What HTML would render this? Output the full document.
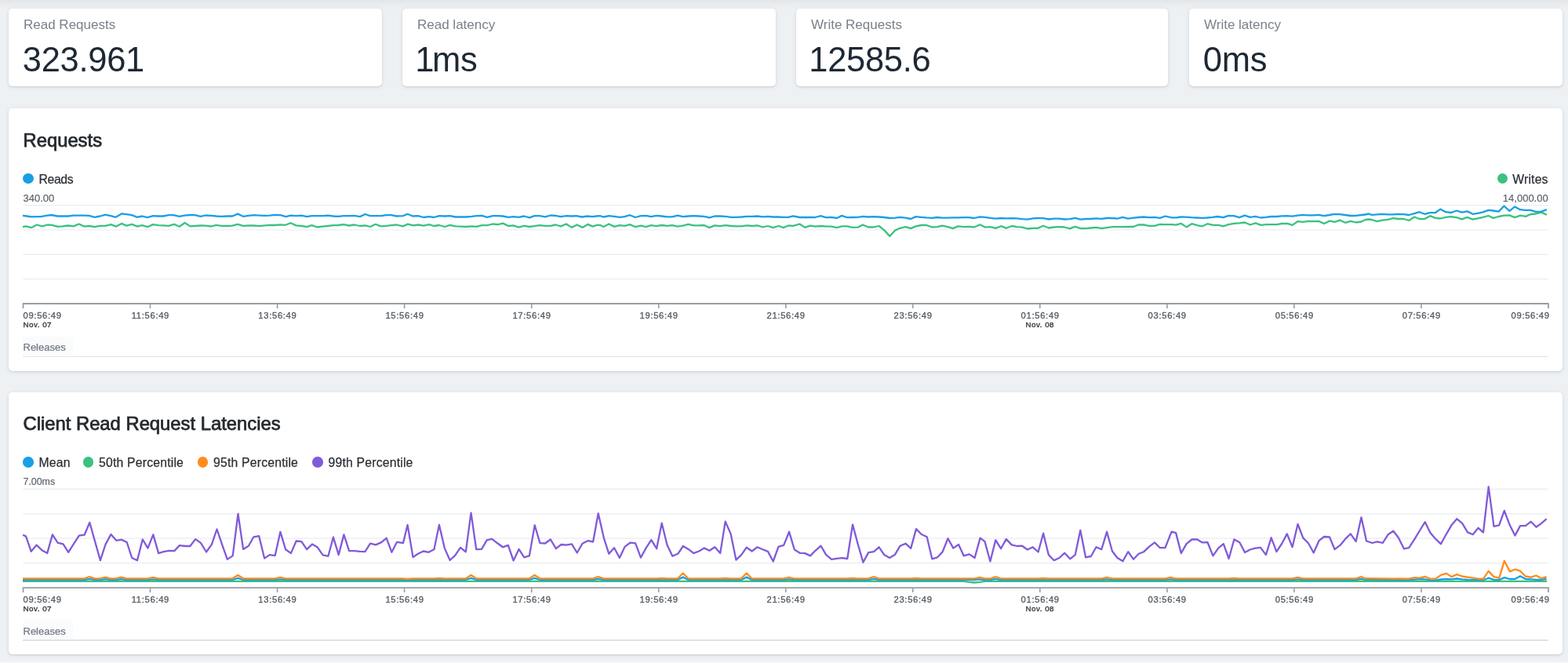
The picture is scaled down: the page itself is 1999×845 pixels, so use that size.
<!DOCTYPE html>
<html>
<head>
<meta charset="utf-8">
<style>
html,body{margin:0;padding:0}
body{width:1999px;height:845px;overflow:hidden;position:relative;background:#eef1f4;font-family:"Liberation Sans",Arial,sans-serif}
.topfade{position:absolute;left:0;top:0;width:1999px;height:12px;background:linear-gradient(#e2e6e9,#e9ecef 40%,#eef1f4)}
.card{position:absolute;top:11px;height:99px;background:#fff;border-radius:5px;box-shadow:0 1px 5px rgba(40,50,60,.12),0 1px 1.5px rgba(40,50,60,.10)}
.card .lab{position:absolute;left:19px;top:11.7px;font-size:17px;line-height:17px;color:#79818a;white-space:nowrap}
.card .val{position:absolute;left:17.8px;top:43.9px;font-size:43.5px;line-height:43.5px;letter-spacing:-0.3px;color:#1d2834;white-space:nowrap}
.panel{position:absolute;left:11px;width:1981px;height:335px;background:#fff;border-radius:5px;box-shadow:0 1px 5px rgba(40,50,60,.12),0 1px 1.5px rgba(40,50,60,.10)}
.ttl{position:absolute;left:29.5px;font-size:23.8px;line-height:23.8px;font-weight:400;color:#24292e;letter-spacing:0px;-webkit-text-stroke:0.75px #24292e;white-space:nowrap}
.lg{position:absolute;font-size:15.75px;line-height:15.75px;color:#2b3035;letter-spacing:0.2px;-webkit-text-stroke:0.25px #2b3035;white-space:nowrap}
.dot{position:absolute;width:13.6px;height:13.6px;border-radius:50%}
.yl{position:absolute;font-size:13px;line-height:13px;color:#5b6168;-webkit-text-stroke:0.15px #5b6168;white-space:nowrap}
.tl{position:absolute;font-size:11.2px;line-height:11.2px;color:#575e65;letter-spacing:0.7px;-webkit-text-stroke:0.35px #575e65;white-space:nowrap}
.dl{position:absolute;font-size:9.8px;line-height:9.8px;font-weight:400;letter-spacing:0.5px;-webkit-text-stroke:0.4px #3a3f44;color:#3a3f44;white-space:nowrap}
.c{width:80px;text-align:center}
.rel{position:absolute;left:29px;width:64px;height:24px;background:#fafbfc}
.relt{position:absolute;left:29.5px;font-size:13px;line-height:13px;color:#6f7882;-webkit-text-stroke:0.2px #6f7882;white-space:nowrap}
.relline{position:absolute;left:29px;width:1945px;height:1.5px;background:#dfe3e8}
</style>
</head>
<body>
<div id="wrap" style="position:absolute;left:0;top:0;width:1999px;height:845px;filter:blur(0.35px)">
<div class="topfade"></div>

<div class="card" style="left:11px;width:476px"><div class="lab">Read Requests</div><div class="val">323.961</div></div>
<div class="card" style="left:513px;width:476px"><div class="lab">Read latency</div><div class="val" style="margin-left:-1.5px"><span style="letter-spacing:-2.5px">1</span>ms</div></div>
<div class="card" style="left:1015px;width:474px"><div class="lab">Write Requests</div><div class="val" style="margin-left:-1.5px">12585.6</div></div>
<div class="card" style="left:1516px;width:476px"><div class="lab">Write latency</div><div class="val">0ms</div></div>

<div class="panel" style="top:138px"></div>
<div class="panel" style="top:500px;height:334px"></div>

<div class="ttl" style="top:167.1px">Requests</div>
<div class="dot" style="left:29.1px;top:220.7px;background:#199fe4"></div>
<div class="lg" style="left:49.5px;top:220.9px;letter-spacing:-0.35px">Reads</div>
<div class="dot" style="left:1908.7px;top:220.8px;background:#3ac27e"></div>
<div class="lg" style="right:25.3px;top:220.9px">Writes</div>
<div class="yl" style="left:29.5px;top:245.9px">340.00</div>
<div class="yl" style="right:25.3px;top:245.9px">14,000.00</div>

<svg class="ch" width="1999" height="845" viewBox="0 0 1999 845" style="position:absolute;left:0;top:0">
<line x1="29.5" x2="1974" y1="261.6" y2="261.6" stroke="#e9ecef" stroke-width="1.2"/>
<line x1="29.5" x2="1974" y1="293.0" y2="293.0" stroke="#e9ecef" stroke-width="1.2"/>
<line x1="29.5" x2="1974" y1="324.3" y2="324.3" stroke="#e9ecef" stroke-width="1.2"/>
<line x1="29.5" x2="1974" y1="355.7" y2="355.7" stroke="#e9ecef" stroke-width="1.2"/>
<polyline points="29.0,289.2 33.1,288.4 40.0,290.2 46.9,286.5 53.8,288.4 60.6,286.5 66.2,286.8 73.8,288.9 80.0,288.4 86.9,287.5 93.8,288.4 100.6,285.5 107.5,288.6 113.8,288.0 120.6,289.2 127.5,287.8 134.4,287.8 141.2,286.1 148.1,288.6 155.0,284.9 161.2,287.6 168.1,285.9 175.0,288.6 181.2,287.1 188.1,289.2 195.0,286.1 201.9,287.1 208.1,287.4 215.0,287.8 221.9,285.8 228.8,288.8 235.6,284.0 242.5,288.4 248.8,288.0 255.6,287.5 261.9,287.6 269.4,288.5 275.6,286.8 282.5,287.8 289.4,288.0 296.2,287.6 303.1,285.8 310.0,287.8 316.9,287.5 323.8,287.5 330.6,288.2 337.5,287.4 343.8,286.8 350.6,287.0 357.5,286.4 363.8,286.8 370.6,284.2 377.5,287.4 384.4,288.0 391.2,289.2 397.5,287.1 404.4,289.5 411.2,288.6 418.1,288.0 425.0,287.1 431.2,287.0 438.1,286.1 445.0,287.5 451.9,286.5 458.8,288.0 465.6,287.4 471.9,289.0 478.8,285.8 485.6,288.4 492.5,287.8 498.8,287.1 505.6,286.5 513.8,288.4 519.9,285.6 526.9,287.4 533.1,286.5 540.0,287.6 546.9,286.1 553.1,288.0 560.0,287.0 566.9,289.0 573.8,286.8 580.6,288.4 587.5,288.6 594.4,289.0 601.2,288.4 607.5,288.9 614.4,287.1 621.2,287.1 628.1,285.5 635.0,286.1 641.2,284.6 648.1,288.0 654.4,287.4 661.2,289.6 668.1,287.8 675.0,289.0 681.2,288.2 688.1,287.1 695.0,287.8 701.9,287.8 708.1,286.5 715.0,288.4 721.9,285.5 728.8,289.9 735.6,286.5 742.5,289.9 749.4,285.9 755.6,288.6 761.2,286.9 764.9,286.8 769.4,289.0 776.2,285.5 783.1,288.9 790.0,287.1 796.2,287.8 803.1,286.1 810.0,289.2 816.9,287.6 823.8,289.2 830.0,287.1 836.9,288.2 843.8,287.0 850.6,287.8 856.9,287.1 863.8,288.6 870.6,287.6 877.5,285.8 884.4,287.4 891.2,287.4 897.5,287.0 904.4,290.1 911.2,287.4 918.1,288.2 925.0,287.1 931.9,288.0 938.8,288.4 945.6,288.4 951.9,287.4 958.8,288.0 965.6,287.4 972.5,289.5 978.8,288.0 985.6,290.1 992.5,288.0 998.8,290.1 1005.0,287.5 1011.2,287.8 1019.4,285.5 1026.2,289.9 1033.1,287.6 1039.4,288.6 1046.2,288.0 1053.1,288.6 1060.0,288.6 1066.9,290.1 1073.1,288.4 1080.0,288.4 1086.9,289.9 1093.8,289.6 1100.0,286.5 1106.9,289.5 1113.8,289.5 1120.6,288.0 1127.5,293.6 1134.4,301.1 1141.2,293.6 1147.5,290.8 1154.4,289.2 1161.2,291.1 1167.5,288.4 1174.4,287.0 1181.2,287.0 1188.1,289.5 1195.0,289.2 1201.2,287.6 1208.1,289.2 1215.0,291.1 1221.2,288.4 1228.8,289.2 1235.0,288.9 1241.9,289.5 1249.4,286.3 1255.6,289.6 1262.5,289.2 1269.4,290.9 1276.2,288.2 1283.1,290.8 1290.0,288.0 1296.2,289.2 1303.1,289.6 1310.0,291.5 1316.9,290.9 1323.1,290.9 1330.0,287.8 1336.9,290.5 1343.8,289.5 1350.0,289.2 1356.9,289.5 1363.8,291.4 1370.6,288.9 1377.5,291.1 1384.4,291.1 1390.6,290.5 1397.5,289.9 1404.4,291.1 1411.2,290.1 1418.1,289.2 1424.4,289.2 1431.2,289.2 1438.1,289.0 1445.0,289.0 1451.2,286.5 1458.1,286.5 1465.0,287.8 1471.9,287.8 1478.8,285.8 1485.6,286.1 1493.8,286.1 1499.3,286.7 1505.6,284.8 1512.5,289.4 1519.4,285.2 1526.2,287.1 1532.5,288.5 1539.4,285.2 1546.2,286.9 1553.1,286.9 1559.4,288.4 1566.2,286.2 1573.1,284.8 1580.0,284.4 1586.9,283.5 1593.8,286.5 1600.6,284.4 1607.5,286.9 1614.4,286.2 1621.2,286.2 1627.5,286.2 1634.4,285.0 1641.2,284.8 1647.5,286.9 1654.4,282.2 1661.2,282.8 1668.1,281.9 1675.0,282.2 1681.2,281.9 1688.1,285.0 1695.0,281.6 1701.9,282.8 1708.1,280.6 1715.0,283.8 1721.9,281.9 1728.8,283.5 1735.6,282.5 1741.2,279.8 1744.9,279.5 1748.8,280.0 1755.6,282.2 1762.5,280.6 1769.4,279.8 1776.2,278.1 1782.5,279.0 1789.4,279.0 1796.2,281.0 1803.1,276.5 1809.4,279.0 1816.2,279.1 1823.1,275.2 1830.0,277.8 1836.2,278.5 1843.1,276.9 1850.0,276.2 1856.9,277.2 1863.8,279.4 1870.6,276.9 1877.5,279.6 1883.8,278.4 1890.6,276.9 1897.5,275.0 1903.8,277.9 1910.6,276.0 1917.5,274.6 1924.4,274.4 1931.2,277.1 1938.1,274.6 1945.0,275.9 1951.2,273.1 1958.1,272.5 1965.0,270.6 1971.9,273.8" fill="none" stroke="#3ac27e" stroke-width="2.3" stroke-linejoin="round" stroke-linecap="butt"/>
<polyline points="29.0,274.9 34.4,275.5 40.0,276.4 45.6,276.1 51.9,276.1 58.8,274.9 65.6,274.0 73.1,275.5 80.0,275.5 86.9,275.5 93.8,274.6 100.0,274.6 106.9,274.6 113.8,274.9 120.6,276.8 127.5,275.5 134.4,273.6 141.2,275.1 147.5,276.8 155.0,272.4 161.2,273.2 168.1,274.2 175.0,276.8 181.2,275.5 188.1,277.1 195.0,275.2 201.9,275.5 208.1,275.5 215.0,274.2 221.2,274.2 228.8,275.9 235.0,274.6 242.5,274.0 248.8,274.2 255.6,275.9 261.9,274.5 269.4,274.9 275.6,275.5 282.5,275.8 289.4,275.5 296.2,275.5 303.1,272.6 310.0,275.8 316.9,274.9 323.8,274.2 330.6,274.6 337.5,274.9 343.8,274.6 350.6,273.9 357.5,274.2 364.4,276.1 370.6,274.6 377.5,275.2 384.4,274.6 391.2,276.1 397.5,275.2 404.4,275.2 411.2,275.2 418.1,274.6 425.0,275.5 431.2,275.9 438.1,275.1 445.0,275.2 451.9,274.9 458.8,276.1 465.6,273.0 471.9,275.1 478.8,275.1 485.6,275.2 492.5,274.2 498.8,274.2 505.6,275.5 513.8,275.1 519.6,272.8 526.2,275.5 533.1,275.2 540.0,277.0 546.9,276.1 553.1,277.0 560.0,275.1 566.9,275.5 573.8,275.1 580.6,276.5 587.5,276.5 594.4,276.5 601.2,275.9 607.5,275.1 614.4,274.9 621.2,276.8 628.1,275.2 635.0,275.1 641.2,275.5 648.1,276.8 655.0,276.1 661.2,276.8 668.1,275.5 675.0,277.4 681.2,275.2 688.1,275.1 695.0,276.4 701.9,274.5 708.1,274.9 715.0,276.1 721.9,275.2 728.8,275.5 735.0,275.2 741.9,276.5 748.8,275.5 755.6,276.1 760.0,275.5 764.9,275.1 769.4,276.5 776.2,275.1 783.1,275.9 790.0,276.8 796.2,276.1 803.1,274.2 810.0,277.0 816.9,275.2 823.8,274.9 830.0,276.1 836.9,274.9 843.8,275.5 850.6,276.4 856.9,276.4 863.8,274.6 870.6,276.1 877.5,275.5 884.4,275.2 891.2,275.5 897.5,275.8 904.4,277.4 911.2,275.5 918.1,275.5 925.0,275.9 931.9,276.8 938.8,276.8 945.6,276.5 951.9,275.9 958.8,275.9 965.6,275.5 972.5,276.4 978.8,275.9 985.6,276.5 992.5,276.5 998.8,276.8 1005.0,276.8 1011.2,275.3 1019.4,277.0 1026.2,276.8 1033.1,277.0 1039.4,277.0 1046.2,275.1 1053.1,277.1 1060.0,276.8 1066.9,278.0 1073.1,274.9 1080.0,277.1 1086.9,277.0 1093.8,276.8 1100.0,275.8 1106.9,276.5 1113.8,276.1 1120.6,276.5 1127.5,277.0 1134.4,278.0 1141.2,277.6 1147.5,276.8 1154.4,277.6 1161.2,279.0 1167.5,276.1 1174.4,276.8 1181.2,277.4 1188.1,277.8 1195.0,277.0 1201.2,277.6 1208.1,277.6 1215.0,277.4 1221.2,277.4 1228.8,277.1 1235.0,277.1 1241.9,278.0 1249.4,276.4 1255.6,276.9 1262.5,277.8 1269.4,278.6 1276.2,278.0 1283.1,278.4 1290.0,278.2 1296.2,278.4 1303.1,279.2 1310.0,279.6 1316.9,278.4 1323.1,278.0 1330.0,278.2 1336.9,279.5 1343.8,278.6 1350.0,278.6 1356.9,279.5 1363.8,279.2 1370.6,277.8 1377.5,279.6 1384.4,279.0 1390.6,279.0 1397.5,278.4 1404.4,278.9 1411.2,278.0 1418.1,278.0 1424.4,278.6 1431.2,276.8 1438.1,278.6 1445.0,277.6 1451.2,277.0 1458.1,276.5 1465.0,277.1 1471.9,276.8 1478.8,277.8 1485.6,275.5 1493.8,277.4 1499.9,277.4 1505.0,276.5 1511.9,276.6 1518.8,277.2 1525.6,277.5 1532.5,277.8 1538.8,277.5 1545.6,276.9 1552.5,276.0 1559.4,277.2 1566.2,274.8 1573.1,275.2 1580.0,277.1 1586.9,274.6 1593.8,276.9 1600.6,275.9 1607.5,277.5 1613.8,276.9 1620.6,276.0 1627.5,276.0 1633.8,275.4 1640.6,275.2 1647.5,275.6 1654.4,274.6 1660.6,273.8 1667.5,274.4 1674.4,274.4 1681.2,273.8 1688.1,275.2 1695.0,274.0 1701.2,272.9 1708.1,273.1 1715.0,274.0 1721.9,275.0 1728.8,274.8 1735.6,274.0 1740.0,273.5 1744.9,272.5 1748.8,273.8 1755.6,273.4 1762.5,272.9 1769.4,273.4 1776.2,273.4 1782.5,272.9 1789.4,273.1 1796.2,274.0 1803.1,272.1 1809.4,270.2 1816.2,272.8 1823.1,271.2 1830.0,271.0 1836.2,266.6 1843.1,270.2 1850.0,271.0 1856.9,268.5 1863.8,270.6 1870.6,269.4 1877.5,272.8 1883.8,271.9 1890.6,270.4 1897.5,267.9 1903.8,268.5 1910.6,269.6 1917.5,262.5 1924.4,268.8 1931.2,263.4 1938.1,267.2 1945.0,267.9 1951.2,267.9 1958.1,269.8 1965.0,269.6 1971.9,267.1" fill="none" stroke="#199fe4" stroke-width="2.3" stroke-linejoin="round" stroke-linecap="butt"/>
<path d="M29.5,393.0 V387.0 H1974.0 V393.0" fill="none" stroke="#979da3" stroke-width="1.8" stroke-linejoin="round"/>
<line x1="191.5" x2="191.5" y1="387.0" y2="393.0" stroke="#979da3" stroke-width="1.6"/>
<line x1="353.6" x2="353.6" y1="387.0" y2="393.0" stroke="#979da3" stroke-width="1.6"/>
<line x1="515.6" x2="515.6" y1="387.0" y2="393.0" stroke="#979da3" stroke-width="1.6"/>
<line x1="677.7" x2="677.7" y1="387.0" y2="393.0" stroke="#979da3" stroke-width="1.6"/>
<line x1="839.7" x2="839.7" y1="387.0" y2="393.0" stroke="#979da3" stroke-width="1.6"/>
<line x1="1001.8" x2="1001.8" y1="387.0" y2="393.0" stroke="#979da3" stroke-width="1.6"/>
<line x1="1163.8" x2="1163.8" y1="387.0" y2="393.0" stroke="#979da3" stroke-width="1.6"/>
<line x1="1325.8" x2="1325.8" y1="387.0" y2="393.0" stroke="#979da3" stroke-width="1.6"/>
<line x1="1487.9" x2="1487.9" y1="387.0" y2="393.0" stroke="#979da3" stroke-width="1.6"/>
<line x1="1649.9" x2="1649.9" y1="387.0" y2="393.0" stroke="#979da3" stroke-width="1.6"/>
<line x1="1812.0" x2="1812.0" y1="387.0" y2="393.0" stroke="#979da3" stroke-width="1.6"/>
</svg>
<div class="tl" style="left:29.5px;top:397.1px">09:56:49</div>
<div class="dl" style="left:29.5px;top:409.2px">Nov. 07</div>
<div class="tl c" style="left:151.9px;top:397.1px">11:56:49</div>
<div class="tl c" style="left:313.9px;top:397.1px">13:56:49</div>
<div class="tl c" style="left:476.0px;top:397.1px">15:56:49</div>
<div class="tl c" style="left:638.0px;top:397.1px">17:56:49</div>
<div class="tl c" style="left:800.1px;top:397.1px">19:56:49</div>
<div class="tl c" style="left:962.1px;top:397.1px">21:56:49</div>
<div class="tl c" style="left:1124.1px;top:397.1px">23:56:49</div>
<div class="tl c" style="left:1286.2px;top:397.1px">01:56:49</div>
<div class="dl c" style="left:1285.8px;top:409.2px">Nov. 08</div>
<div class="tl c" style="left:1448.2px;top:397.1px">03:56:49</div>
<div class="tl c" style="left:1610.3px;top:397.1px">05:56:49</div>
<div class="tl c" style="left:1772.3px;top:397.1px">07:56:49</div>
<div class="tl" style="right:23.3px;top:397.1px">09:56:49</div>

<div class="rel" style="top:429px"></div>
<div class="relt" style="top:436px">Releases</div>
<div class="relline" style="top:453.8px"></div>

<div class="ttl" style="top:528.4px">Client Read Request Latencies</div>
<div class="dot" style="left:29.1px;top:582.3px;background:#199fe4"></div>
<div class="lg" style="left:49.5px;top:582.1px">Mean</div>
<div class="dot" style="left:105.5px;top:582.3px;background:#3ac27e"></div>
<div class="lg" style="left:126px;top:582.1px">50th Percentile</div>
<div class="dot" style="left:251.8px;top:582.3px;background:#ff8c1c"></div>
<div class="lg" style="left:272px;top:582.1px">95th Percentile</div>
<div class="dot" style="left:398px;top:582.3px;background:#815ad9"></div>
<div class="lg" style="left:418.5px;top:582.1px">99th Percentile</div>
<div class="yl" style="left:29.5px;top:607.5px;font-size:12.4px">7.00ms</div>

<svg class="ch" width="1999" height="845" viewBox="0 0 1999 845" style="position:absolute;left:0;top:0">
<line x1="29.5" x2="1974" y1="623.3" y2="623.3" stroke="#e9ecef" stroke-width="1.2"/>
<line x1="29.5" x2="1974" y1="654.8" y2="654.8" stroke="#e9ecef" stroke-width="1.2"/>
<line x1="29.5" x2="1974" y1="686.2" y2="686.2" stroke="#e9ecef" stroke-width="1.2"/>
<line x1="29.5" x2="1974" y1="717.6" y2="717.6" stroke="#e9ecef" stroke-width="1.2"/>
<polyline points="29.0,740.8 33.1,740.8 39.9,740.8 46.6,740.8 53.4,740.8 60.1,740.8 66.9,740.8 73.6,740.8 80.4,740.8 87.1,740.8 93.9,740.8 100.7,740.8 107.4,740.8 114.2,740.8 120.9,740.8 127.7,740.8 134.4,740.8 141.2,740.8 147.9,740.8 154.7,740.8 161.4,740.8 168.2,740.8 175.0,740.8 181.7,740.8 188.5,740.8 195.2,740.8 202.0,740.8 208.7,740.8 215.5,740.8 222.2,740.8 229.0,740.8 235.8,740.8 242.5,740.8 249.3,740.8 256.0,740.8 262.8,740.8 269.5,740.8 276.3,740.8 283.0,740.8 289.8,740.8 296.5,740.8 303.3,740.8 310.1,740.8 316.8,740.8 323.6,740.8 330.3,740.8 337.1,740.8 343.8,740.8 350.6,740.8 357.3,740.8 364.1,740.8 370.9,740.8 377.6,740.8 384.4,740.8 391.1,740.8 397.9,740.8 404.6,740.8 411.4,740.8 418.1,740.8 424.9,740.8 431.6,740.8 438.4,740.8 445.2,740.8 451.9,740.8 458.7,740.8 465.4,740.8 472.2,740.8 478.9,740.8 485.7,740.8 492.4,740.8 499.2,740.8 505.9,740.8 512.7,740.8 519.5,740.8 526.2,740.8 533.0,740.8 539.7,740.8 546.5,740.8 553.2,740.8 560.0,740.8 566.7,740.8 573.5,740.8 580.3,740.8 587.0,740.8 593.8,740.8 600.5,740.8 607.3,740.8 614.0,740.8 620.8,740.8 627.5,740.8 634.3,740.8 641.1,740.8 647.8,740.8 654.6,740.8 661.3,740.8 668.1,740.8 674.8,740.8 681.6,740.8 688.3,740.8 695.1,740.8 701.8,740.8 708.6,740.8 715.4,740.8 722.1,740.8 728.9,740.8 735.6,740.8 742.4,740.8 749.1,740.8 755.9,740.8 762.6,740.8 769.4,740.8 776.1,740.8 782.9,740.8 789.7,740.8 796.4,740.8 803.2,740.8 809.9,740.8 816.7,740.8 823.4,740.8 830.2,740.8 836.9,740.8 843.7,740.8 850.5,740.8 857.2,740.8 864.0,740.8 870.7,740.8 877.5,740.8 884.2,740.8 891.0,740.8 897.7,740.8 904.5,740.8 911.2,740.8 918.0,740.8 924.8,740.8 931.5,740.8 938.3,740.8 945.0,740.8 951.8,740.8 958.5,740.8 965.3,740.8 972.0,740.8 978.8,740.8 985.6,740.8 992.3,740.8 999.1,740.8 1005.8,740.8 1012.6,740.8 1019.3,740.8 1026.1,740.8 1032.8,740.8 1039.6,740.8 1046.3,740.8 1053.1,740.8 1059.9,740.8 1066.6,740.8 1073.4,740.8 1080.1,740.8 1086.9,740.8 1093.6,740.8 1100.4,740.8 1107.1,740.8 1113.9,740.8 1120.7,740.8 1127.4,740.8 1134.2,740.8 1140.9,740.8 1147.7,740.8 1154.4,740.8 1161.2,740.8 1167.9,740.8 1174.7,740.8 1181.4,740.8 1188.2,740.8 1195.0,740.8 1201.7,740.8 1208.5,740.8 1215.2,740.8 1222.0,740.8 1228.7,740.8 1235.5,741.8 1242.2,742.5 1249.0,741.8 1255.8,740.8 1262.5,740.8 1269.3,740.8 1276.0,740.8 1282.8,740.8 1289.5,740.8 1296.3,740.8 1303.0,740.8 1309.8,740.8 1316.5,740.8 1323.3,740.8 1330.1,740.8 1336.8,740.8 1343.6,740.8 1350.3,740.8 1357.1,740.8 1363.8,740.8 1370.6,740.8 1377.3,740.8 1384.1,740.8 1390.9,740.8 1397.6,740.8 1404.4,740.8 1411.1,740.8 1417.9,740.8 1424.6,740.8 1431.4,740.8 1438.1,740.8 1444.9,740.8 1451.6,740.8 1458.4,740.8 1465.2,740.8 1471.9,740.8 1478.7,740.8 1485.4,740.8 1492.2,740.8 1498.9,740.8 1505.7,740.8 1512.4,740.8 1519.2,740.8 1526.0,740.8 1532.7,740.8 1539.5,740.8 1546.2,740.8 1553.0,740.8 1559.7,740.8 1566.5,740.8 1573.2,740.8 1580.0,740.8 1586.7,740.8 1593.5,740.8 1600.3,740.8 1607.0,740.8 1613.8,740.8 1620.5,740.8 1627.3,740.8 1634.0,740.8 1640.8,740.8 1647.5,740.8 1654.3,740.8 1661.1,740.8 1667.8,740.8 1674.6,740.8 1681.3,740.8 1688.1,740.8 1694.8,740.8 1701.6,740.8 1708.3,740.8 1715.1,740.8 1721.8,740.8 1728.6,740.8 1735.4,740.8 1972.0,740.8" fill="none" stroke="#3ac27e" stroke-width="2.3" stroke-linejoin="round" stroke-linecap="butt"/>
<polyline points="29.0,739.0 33.1,739.0 39.9,739.0 46.6,739.0 53.4,739.0 60.1,739.0 66.9,739.0 73.6,739.0 80.4,739.0 87.1,739.0 93.9,739.0 100.7,739.0 107.4,739.0 114.2,737.9 120.9,739.0 127.7,739.0 134.4,738.1 141.2,739.0 147.9,739.0 154.7,738.1 161.4,739.0 168.2,739.0 175.0,739.0 181.7,739.0 188.5,739.0 195.2,738.4 202.0,739.0 208.7,739.0 215.5,739.0 222.2,739.0 229.0,739.0 235.8,739.0 242.5,739.0 249.3,739.0 256.0,739.0 262.8,739.0 269.5,739.0 276.3,739.0 283.0,739.0 289.8,739.0 296.5,739.0 303.3,736.9 310.1,739.0 316.8,739.0 323.6,739.0 330.3,739.0 337.1,739.0 343.8,739.0 350.6,739.0 357.3,738.4 364.1,739.0 370.9,739.0 377.6,739.0 384.4,739.0 391.1,739.0 397.9,739.0 404.6,739.0 411.4,739.0 418.1,739.0 424.9,739.0 431.6,739.0 438.4,739.0 445.2,739.0 451.9,739.0 458.7,739.0 465.4,739.0 472.2,739.0 478.9,739.0 485.7,739.0 492.4,739.0 499.2,739.0 505.9,739.0 512.7,739.0 519.5,739.4 526.2,739.0 533.0,739.0 539.7,739.0 546.5,739.0 553.2,739.0 560.0,738.9 566.7,739.0 573.5,739.0 580.3,739.0 587.0,739.0 593.8,739.0 600.5,736.9 607.3,739.0 614.0,739.0 620.8,739.0 627.5,739.0 634.3,739.0 641.1,739.0 647.8,739.0 654.6,739.0 661.3,739.0 668.1,739.0 674.8,739.0 681.6,736.9 688.3,739.0 695.1,739.0 701.8,739.0 708.6,739.0 715.4,739.0 722.1,739.0 728.9,739.0 735.6,739.0 742.4,739.0 749.1,739.0 755.9,739.0 762.6,737.9 769.4,739.0 776.1,739.0 782.9,739.0 789.7,739.0 796.4,739.0 803.2,739.0 809.9,739.0 816.7,739.0 823.4,739.0 830.2,739.0 836.9,739.0 843.7,738.9 850.5,739.0 857.2,739.0 864.0,739.0 870.7,735.6 877.5,739.0 884.2,739.0 891.0,739.0 897.7,739.0 904.5,739.0 911.2,739.0 918.0,739.0 924.8,738.9 931.5,739.0 938.3,739.0 945.0,739.0 951.8,735.6 958.5,739.0 965.3,739.0 972.0,739.0 978.8,739.0 985.6,739.0 992.3,739.0 999.1,739.0 1005.8,738.4 1012.6,739.0 1019.3,739.0 1026.1,739.0 1032.8,739.0 1039.6,739.0 1046.3,739.0 1053.1,739.0 1059.9,739.0 1066.6,739.0 1073.4,739.0 1080.1,739.0 1086.9,738.9 1093.6,739.0 1100.4,739.0 1107.1,739.0 1113.9,737.9 1120.7,739.0 1127.4,739.0 1134.2,739.0 1140.9,739.0 1147.7,739.0 1154.4,739.0 1161.2,739.0 1167.9,738.9 1174.7,739.0 1181.4,739.0 1188.2,739.0 1195.0,739.0 1201.7,739.0 1208.5,739.0 1215.2,739.0 1222.0,739.0 1228.7,739.0 1235.5,739.0 1242.2,739.0 1249.0,738.4 1255.8,739.0 1262.5,739.0 1269.3,737.9 1276.0,739.0 1282.8,739.0 1289.5,739.0 1296.3,739.0 1303.0,739.0 1309.8,739.0 1316.5,739.0 1323.3,739.0 1330.1,738.9 1336.8,739.0 1343.6,739.0 1350.3,739.0 1357.1,739.0 1363.8,739.0 1370.6,739.0 1377.3,739.0 1384.1,739.0 1390.9,739.0 1397.6,739.0 1404.4,739.0 1411.1,738.4 1417.9,739.0 1424.6,739.0 1431.4,739.0 1438.1,739.0 1444.9,739.0 1451.6,739.0 1458.4,739.0 1465.2,739.0 1471.9,739.0 1478.7,739.0 1485.4,739.0 1492.2,738.4 1498.9,739.0 1505.7,739.0 1512.4,739.0 1519.2,739.0 1526.0,739.0 1532.7,739.0 1539.5,739.0 1546.2,739.0 1553.0,739.0 1559.7,739.0 1566.5,739.0 1573.2,738.9 1580.0,739.0 1586.7,739.0 1593.5,739.0 1600.3,739.0 1607.0,739.0 1613.8,739.0 1620.5,739.0 1627.3,739.0 1634.0,739.0 1640.8,739.0 1647.5,739.0 1654.3,738.4 1661.1,739.0 1667.8,739.0 1674.6,739.0 1681.3,739.0 1688.1,739.0 1694.8,739.0 1701.6,739.0 1708.3,739.0 1715.1,739.0 1721.8,739.0 1728.6,739.0 1735.4,737.9 1740.0,738.8 1795.9,739.3 1809.8,738.0 1816.7,738.3 1823.4,739.3 1830.3,739.6 1837.0,738.5 1843.8,738.0 1850.5,738.3 1857.4,737.5 1864.1,738.3 1871.0,738.8 1891.0,739.3 1897.7,736.7 1904.5,738.8 1911.2,739.3 1917.8,736.1 1924.8,738.0 1931.4,738.0 1938.1,734.3 1944.8,738.0 1951.7,738.3 1958.5,738.8 1965.2,738.8 1971.6,738.0" fill="none" stroke="#199fe4" stroke-width="2.3" stroke-linejoin="round" stroke-linecap="butt"/>
<polyline points="29.0,737.3 33.1,737.3 39.9,737.3 46.6,737.3 53.4,737.3 60.1,737.3 66.9,737.3 73.6,737.3 80.4,737.3 87.1,737.3 93.9,737.3 100.7,737.3 107.4,737.3 114.2,735.0 120.9,737.3 127.7,737.3 134.4,735.5 141.2,737.3 147.9,737.3 154.7,735.5 161.4,737.3 168.2,737.3 175.0,737.3 181.7,737.3 188.5,737.3 195.2,736.0 202.0,737.3 208.7,737.3 215.5,737.3 222.2,737.3 229.0,737.3 235.8,737.3 242.5,737.3 249.3,737.3 256.0,737.3 262.8,737.3 269.5,737.3 276.3,737.3 283.0,737.3 289.8,737.3 296.5,737.3 303.3,733.0 310.1,737.3 316.8,737.3 323.6,737.3 330.3,737.3 337.1,737.3 343.8,737.3 350.6,737.3 357.3,736.0 364.1,737.3 370.9,737.3 377.6,737.3 384.4,737.3 391.1,737.3 397.9,737.3 404.6,737.3 411.4,737.3 418.1,737.3 424.9,737.3 431.6,737.3 438.4,737.3 445.2,737.3 451.9,737.3 458.7,737.3 465.4,737.3 472.2,737.3 478.9,737.3 485.7,737.3 492.4,737.3 499.2,737.3 505.9,737.3 512.7,737.3 519.5,738.0 526.2,737.3 533.0,737.3 539.7,737.3 546.5,737.3 553.2,737.3 560.0,737.0 566.7,737.3 573.5,737.3 580.3,737.3 587.0,737.3 593.8,737.3 600.5,733.0 607.3,737.3 614.0,737.3 620.8,737.3 627.5,737.3 634.3,737.3 641.1,737.3 647.8,737.3 654.6,737.3 661.3,737.3 668.1,737.3 674.8,737.3 681.6,733.0 688.3,737.3 695.1,737.3 701.8,737.3 708.6,737.3 715.4,737.3 722.1,737.3 728.9,737.3 735.6,737.3 742.4,737.3 749.1,737.3 755.9,737.3 762.6,735.0 769.4,737.3 776.1,737.3 782.9,737.3 789.7,737.3 796.4,737.3 803.2,737.3 809.9,737.3 816.7,737.3 823.4,737.3 830.2,737.3 836.9,737.3 843.7,737.0 850.5,737.3 857.2,737.3 864.0,737.3 870.7,730.5 877.5,737.3 884.2,737.3 891.0,737.3 897.7,737.3 904.5,737.3 911.2,737.3 918.0,737.3 924.8,737.0 931.5,737.3 938.3,737.3 945.0,737.3 951.8,730.5 958.5,737.3 965.3,737.3 972.0,737.3 978.8,737.3 985.6,737.3 992.3,737.3 999.1,737.3 1005.8,736.0 1012.6,737.3 1019.3,737.3 1026.1,737.3 1032.8,737.3 1039.6,737.3 1046.3,737.3 1053.1,737.3 1059.9,737.3 1066.6,737.3 1073.4,737.3 1080.1,737.3 1086.9,737.0 1093.6,737.3 1100.4,737.3 1107.1,737.3 1113.9,735.0 1120.7,737.3 1127.4,737.3 1134.2,737.3 1140.9,737.3 1147.7,737.3 1154.4,737.3 1161.2,737.3 1167.9,737.0 1174.7,737.3 1181.4,737.3 1188.2,737.3 1195.0,737.3 1201.7,737.3 1208.5,737.3 1215.2,737.3 1222.0,737.3 1228.7,737.3 1235.5,737.3 1242.2,737.3 1249.0,736.0 1255.8,737.3 1262.5,737.3 1269.3,735.0 1276.0,737.3 1282.8,737.3 1289.5,737.3 1296.3,737.3 1303.0,737.3 1309.8,737.3 1316.5,737.3 1323.3,737.3 1330.1,737.0 1336.8,737.3 1343.6,737.3 1350.3,737.3 1357.1,737.3 1363.8,737.3 1370.6,737.3 1377.3,737.3 1384.1,737.3 1390.9,737.3 1397.6,737.3 1404.4,737.3 1411.1,736.0 1417.9,737.3 1424.6,737.3 1431.4,737.3 1438.1,737.3 1444.9,737.3 1451.6,737.3 1458.4,737.3 1465.2,737.3 1471.9,737.3 1478.7,737.3 1485.4,737.3 1492.2,736.0 1498.9,737.3 1505.7,737.3 1512.4,737.3 1519.2,737.3 1526.0,737.3 1532.7,737.3 1539.5,737.3 1546.2,737.3 1553.0,737.3 1559.7,737.3 1566.5,737.3 1573.2,737.0 1580.0,737.3 1586.7,737.3 1593.5,737.3 1600.3,737.3 1607.0,737.3 1613.8,737.3 1620.5,737.3 1627.3,737.3 1634.0,737.3 1640.8,737.3 1647.5,737.3 1654.3,736.0 1661.1,737.3 1667.8,737.3 1674.6,737.3 1681.3,737.3 1688.1,737.3 1694.8,737.3 1701.6,737.3 1708.3,737.3 1715.1,737.3 1721.8,737.3 1728.6,737.3 1735.4,735.0 1740.0,737.2 1795.9,737.7 1803.1,736.1 1809.8,736.7 1816.7,734.8 1823.4,737.7 1830.3,737.7 1837.0,732.9 1843.8,730.8 1850.5,735.1 1857.4,732.1 1864.1,734.5 1871.0,735.6 1877.7,736.7 1884.6,737.7 1891.0,737.7 1897.7,727.9 1904.5,735.1 1911.2,736.9 1917.8,714.8 1924.8,728.4 1931.4,725.7 1938.1,727.6 1944.8,734.5 1951.7,735.6 1958.5,733.5 1965.2,737.2 1971.6,735.1" fill="none" stroke="#ff8c1c" stroke-width="2.3" stroke-linejoin="round" stroke-linecap="butt"/>
<polyline points="29.2,681.7 33.1,683.6 39.7,702.8 46.5,694.7 53.4,701.2 60.2,705.1 66.9,681.4 73.7,691.8 80.5,693.4 87.2,703.8 94.0,693.1 100.8,682.7 107.6,681.7 114.3,666.0 121.1,690.1 127.9,714.2 134.6,693.6 141.4,681.1 148.2,688.8 154.9,687.9 161.7,691.0 168.2,711.0 175.0,714.2 181.8,687.5 188.5,698.6 195.3,681.4 202.1,705.1 208.6,703.2 215.4,701.8 222.3,702.1 228.9,695.1 235.7,696.0 242.4,696.0 249.2,687.1 256.1,692.1 263.0,703.5 269.9,693.8 276.5,674.5 283.0,693.6 289.8,712.9 296.7,708.4 303.5,655.0 310.1,699.9 316.9,695.7 323.4,684.3 330.2,683.2 337.1,711.6 343.8,707.1 350.7,708.1 357.4,677.8 364.1,700.2 370.9,705.1 377.7,689.5 384.3,690.1 391.1,700.2 398.0,693.6 404.8,697.6 411.5,707.4 418.4,708.8 424.9,684.7 431.7,707.1 438.4,681.4 445.1,702.1 451.9,702.1 458.8,702.8 465.3,703.2 472.1,692.7 479.0,694.4 485.9,691.4 492.7,685.8 499.4,703.8 506.1,690.8 514.0,692.1 519.6,669.0 526.5,710.1 533.0,705.8 539.7,702.5 546.5,703.8 553.4,700.2 559.9,668.9 566.8,698.6 573.6,714.0 580.4,707.7 587.0,697.9 593.8,703.4 600.5,653.7 607.2,700.2 614.0,699.9 620.7,688.4 627.2,686.9 634.1,692.3 641.0,697.3 647.8,694.9 654.6,714.5 661.5,699.9 668.3,710.3 674.9,708.4 681.7,669.3 688.4,692.1 695.1,692.5 701.8,687.5 708.8,699.2 715.5,694.0 722.0,694.7 728.9,693.4 735.7,704.5 742.5,692.7 749.4,689.2 756.1,690.5 762.7,654.3 769.8,685.6 776.3,705.8 783.0,698.2 789.9,711.0 796.7,696.6 803.4,691.7 810.1,692.3 816.9,710.7 823.5,698.6 830.3,688.2 837.1,699.2 843.7,666.7 850.5,694.4 857.3,708.8 864.2,705.8 870.9,696.0 877.6,699.9 884.3,705.1 891.1,702.5 897.8,698.6 904.5,701.8 911.3,697.3 918.2,705.1 924.7,664.7 931.6,680.4 938.4,713.6 945.2,707.1 951.8,697.7 958.6,702.5 965.3,697.3 972.2,700.2 979.0,702.9 985.7,715.5 992.4,696.9 999.2,694.9 1006.1,677.8 1012.8,700.5 1019.6,704.8 1026.2,705.1 1033.0,708.4 1039.5,701.8 1046.4,695.7 1053.2,707.1 1060.1,712.9 1066.8,711.9 1073.6,711.2 1080.3,712.0 1087.0,668.6 1093.5,692.7 1100.4,716.8 1107.2,704.1 1114.0,703.2 1120.6,697.3 1127.4,707.3 1134.2,711.0 1140.8,707.1 1147.6,695.7 1154.5,692.7 1161.2,698.9 1168.0,674.1 1174.7,681.0 1181.7,684.3 1188.3,712.3 1195.1,710.3 1201.6,703.4 1208.5,686.2 1215.3,698.6 1222.1,694.0 1228.7,708.4 1235.7,706.4 1242.6,711.0 1249.6,685.6 1255.5,690.1 1262.4,715.5 1269.3,688.4 1276.0,699.2 1282.8,687.1 1289.7,694.4 1296.5,696.0 1303.1,695.7 1309.9,700.5 1316.7,697.3 1323.6,703.5 1330.1,679.7 1336.8,707.1 1343.8,714.2 1350.5,711.0 1357.2,704.8 1364.2,712.3 1370.8,707.1 1377.3,675.8 1384.1,710.3 1390.9,709.0 1397.5,697.3 1404.3,700.2 1411.1,677.8 1418.0,702.5 1424.5,711.0 1431.4,715.3 1438.2,703.2 1444.9,712.7 1451.8,705.8 1458.3,703.2 1465.2,696.6 1472.0,691.4 1478.8,698.2 1485.4,698.2 1493.6,677.6 1499.1,679.1 1505.8,705.1 1512.6,693.1 1519.5,687.5 1526.2,687.5 1532.8,691.4 1539.5,691.2 1546.4,708.4 1553.2,698.6 1559.8,693.1 1566.6,712.0 1573.4,687.5 1580.3,691.2 1587.1,704.1 1593.7,700.5 1600.5,698.6 1607.0,697.9 1613.9,707.1 1620.7,685.3 1627.4,703.2 1634.1,693.0 1640.8,680.4 1647.6,697.3 1654.5,668.0 1661.3,685.6 1667.9,692.3 1674.7,704.5 1681.5,689.2 1688.1,684.0 1694.9,684.3 1701.6,700.2 1708.5,694.9 1715.1,686.9 1721.8,680.4 1728.7,690.1 1735.5,659.3 1742.0,689.5 1749.3,692.0 1756.0,690.4 1762.8,692.0 1769.6,681.3 1776.3,676.8 1782.8,685.3 1789.8,699.3 1796.2,698.1 1803.1,687.7 1809.8,676.5 1816.7,665.3 1823.4,678.9 1830.3,686.9 1837.0,693.3 1843.8,680.8 1850.5,669.3 1857.4,661.3 1864.1,666.9 1871.0,678.4 1877.7,681.3 1884.6,672.8 1891.0,678.6 1897.7,620.3 1904.5,670.9 1911.2,669.3 1917.8,650.9 1924.8,669.3 1931.4,682.6 1938.1,670.1 1944.8,670.1 1951.7,664.8 1958.5,671.7 1965.2,666.9 1971.6,661.3" fill="none" stroke="#815ad9" stroke-width="2.3" stroke-linejoin="round" stroke-linecap="butt"/>
<path d="M29.5,755.1 V749.1 H1974.0 V755.1" fill="none" stroke="#979da3" stroke-width="1.8" stroke-linejoin="round"/>
<line x1="191.5" x2="191.5" y1="749.1" y2="755.1" stroke="#979da3" stroke-width="1.6"/>
<line x1="353.6" x2="353.6" y1="749.1" y2="755.1" stroke="#979da3" stroke-width="1.6"/>
<line x1="515.6" x2="515.6" y1="749.1" y2="755.1" stroke="#979da3" stroke-width="1.6"/>
<line x1="677.7" x2="677.7" y1="749.1" y2="755.1" stroke="#979da3" stroke-width="1.6"/>
<line x1="839.7" x2="839.7" y1="749.1" y2="755.1" stroke="#979da3" stroke-width="1.6"/>
<line x1="1001.8" x2="1001.8" y1="749.1" y2="755.1" stroke="#979da3" stroke-width="1.6"/>
<line x1="1163.8" x2="1163.8" y1="749.1" y2="755.1" stroke="#979da3" stroke-width="1.6"/>
<line x1="1325.8" x2="1325.8" y1="749.1" y2="755.1" stroke="#979da3" stroke-width="1.6"/>
<line x1="1487.9" x2="1487.9" y1="749.1" y2="755.1" stroke="#979da3" stroke-width="1.6"/>
<line x1="1649.9" x2="1649.9" y1="749.1" y2="755.1" stroke="#979da3" stroke-width="1.6"/>
<line x1="1812.0" x2="1812.0" y1="749.1" y2="755.1" stroke="#979da3" stroke-width="1.6"/>
</svg>
<div class="tl" style="left:29.5px;top:759.2px">09:56:49</div>
<div class="dl" style="left:29.5px;top:771.3px">Nov. 07</div>
<div class="tl c" style="left:151.9px;top:759.2px">11:56:49</div>
<div class="tl c" style="left:313.9px;top:759.2px">13:56:49</div>
<div class="tl c" style="left:476.0px;top:759.2px">15:56:49</div>
<div class="tl c" style="left:638.0px;top:759.2px">17:56:49</div>
<div class="tl c" style="left:800.1px;top:759.2px">19:56:49</div>
<div class="tl c" style="left:962.1px;top:759.2px">21:56:49</div>
<div class="tl c" style="left:1124.1px;top:759.2px">23:56:49</div>
<div class="tl c" style="left:1286.2px;top:759.2px">01:56:49</div>
<div class="dl c" style="left:1285.8px;top:771.3px">Nov. 08</div>
<div class="tl c" style="left:1448.2px;top:759.2px">03:56:49</div>
<div class="tl c" style="left:1610.3px;top:759.2px">05:56:49</div>
<div class="tl c" style="left:1772.3px;top:759.2px">07:56:49</div>
<div class="tl" style="right:23.3px;top:759.2px">09:56:49</div>

<div class="rel" style="top:791px"></div>
<div class="relt" style="top:797.5px">Releases</div>
<div class="relline" style="top:815.3px"></div>

<div style="position:absolute;left:0;top:844px;width:1999px;height:1px;background:#fbfcfc"></div>
</div>
</body>
</html>
